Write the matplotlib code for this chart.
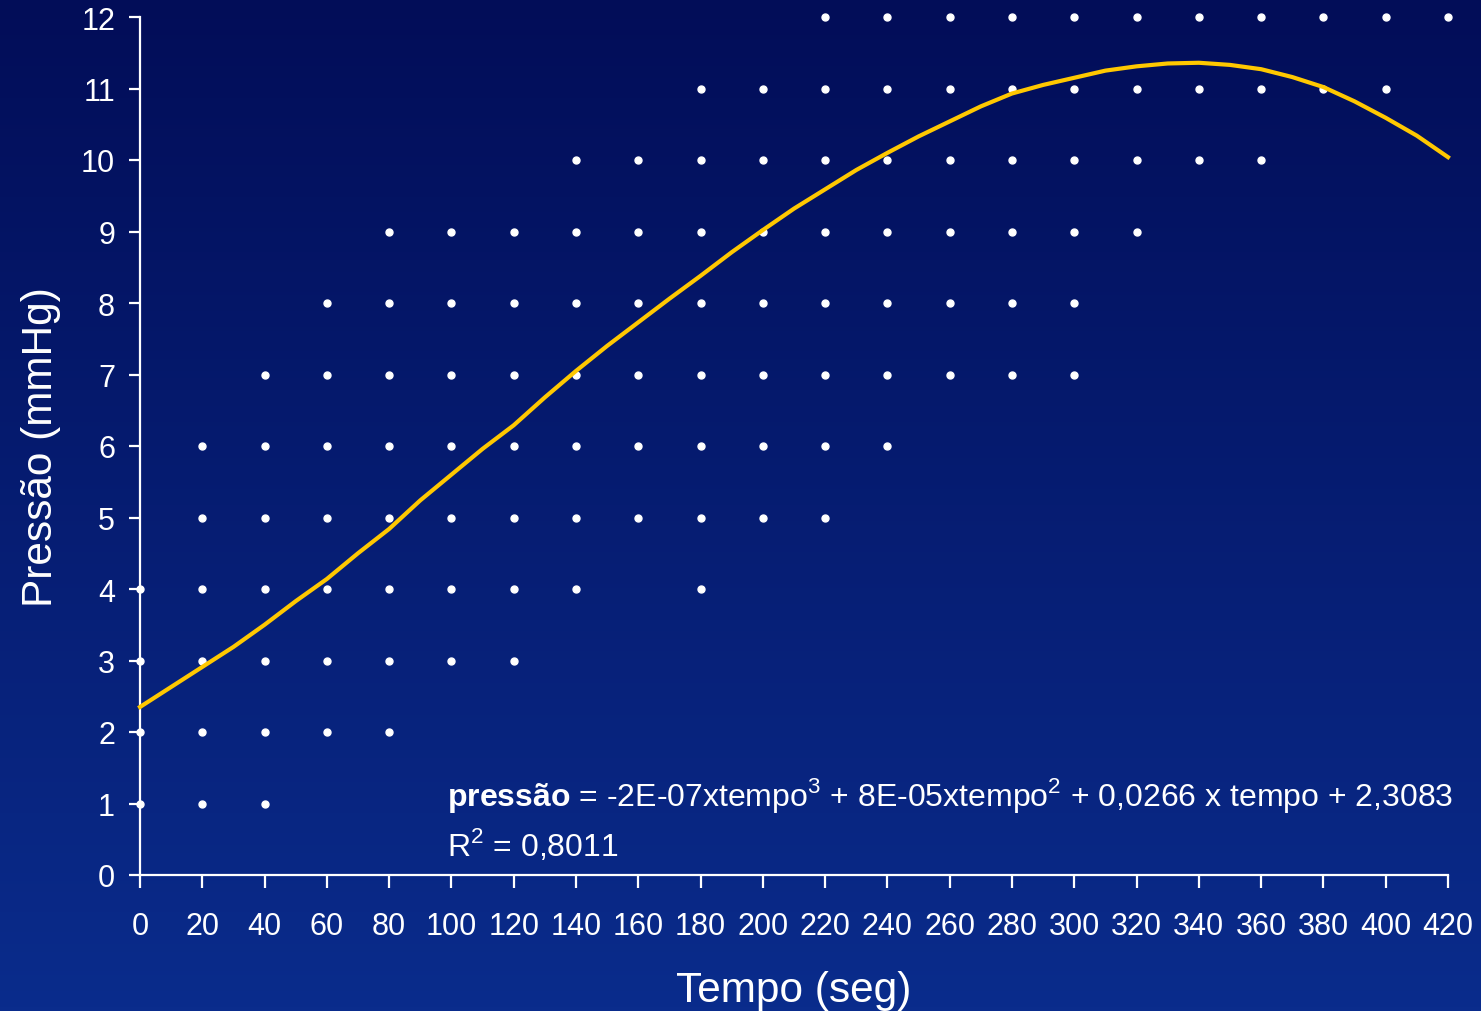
import matplotlib
matplotlib.use('Agg')
import matplotlib.pyplot as plt
import numpy as np
from matplotlib.colors import LinearSegmentedColormap

plt.rcParams['font.family'] = ['Liberation Sans', 'DejaVu Sans']
plt.rcParams['mathtext.fontset'] = 'custom'
plt.rcParams['mathtext.rm'] = 'Liberation Sans'
plt.rcParams['mathtext.bf'] = 'Liberation Sans:bold'

# observed points: for each pressure level, the times where a dot appears
niveis = [1, 2, 3, 4, 5, 6, 7, 8, 9, 10, 11, 12]
tempos_por_nivel = [
    [0, 20, 40],
    [0, 20, 40, 60, 80],
    [0, 20, 40, 60, 80, 100, 120],
    [0, 20, 40, 60, 80, 100, 120, 140, 180],
    [20, 40, 60, 80, 100, 120, 140, 160, 180, 200, 220],
    [20, 40, 60, 80, 100, 120, 140, 160, 180, 200, 220, 240],
    [40, 60, 80, 100, 120, 140, 160, 180, 200, 220, 240, 260, 280, 300],
    [60, 80, 100, 120, 140, 160, 180, 200, 220, 240, 260, 280, 300],
    [80, 100, 120, 140, 160, 180, 200, 220, 240, 260, 280, 300, 320],
    [140, 160, 180, 200, 220, 240, 260, 280, 300, 320, 340, 360],
    [180, 200, 220, 240, 260, 280, 300, 320, 340, 360, 380, 400],
    [220, 240, 260, 280, 300, 320, 340, 360, 380, 400, 420],
]

# trend line (every 10 s)
tempo_curva = [0, 10, 20, 30, 40, 50, 60, 70, 80, 90, 100, 110, 120, 130, 140,
               150, 160, 170, 180, 190, 200, 210, 220, 230, 240, 250, 260, 270,
               280, 290, 300, 310, 320, 330, 340, 350, 360, 370, 380, 390, 400,
               410, 420]
pressao_curva = [2.35, 2.63, 2.91, 3.19, 3.50, 3.83, 4.14, 4.50, 4.84, 5.24, 5.60,
                 5.96, 6.29, 6.68, 7.05, 7.40, 7.73, 8.06, 8.38, 8.71, 9.02, 9.32,
                 9.59, 9.86, 10.10, 10.33, 10.54, 10.75, 10.93, 11.05, 11.15, 11.25,
                 11.31, 11.35, 11.36, 11.33, 11.27, 11.16, 11.02, 10.82, 10.59,
                 10.34, 10.04]

fig = plt.figure(figsize=(14.81, 10.12), dpi=100)

# gradient background
bg = fig.add_axes([0, 0, 1, 1], zorder=-10)
grad = np.linspace(0, 1, 256).reshape(-1, 1)
cmap = LinearSegmentedColormap.from_list('bg', ['#020d58', '#0a2c8c'])
bg.imshow(grad, aspect='auto', cmap=cmap, extent=[0, 1, 0, 1])
bg.axis('off')

ax = fig.add_axes([140 / 1481, 1 - 876 / 1012, (1448 - 140) / 1481, (876 - 18) / 1012])
ax.patch.set_alpha(0)

for nivel, ts in zip(niveis, tempos_por_nivel):
    ax.plot(ts, [nivel] * len(ts), 'o', color='white', markersize=5, clip_on=False, zorder=3)

ax.plot(tempo_curva, pressao_curva, '-', color='#ffc800', lw=3, clip_on=False, zorder=4,
        solid_joinstyle='round')

ax.set_xlim(0, 420)
ax.set_ylim(0, 12)
ax.set_xticks(range(0, 421, 20))
ax.set_yticks(range(0, 13))
for s in ['top', 'right']:
    ax.spines[s].set_visible(False)
for s in ['left', 'bottom']:
    ax.spines[s].set_color('white')
    ax.spines[s].set_linewidth(1.6)
ax.tick_params(axis='y', colors='white', labelsize=22, length=8, width=1.6, pad=10)
ax.tick_params(axis='x', colors='white', labelsize=22, length=9, width=1.6, pad=17)

ax.set_xlabel('Tempo (seg)', color='white', fontsize=30.5, labelpad=20.5)
ax.set_ylabel('Pressão (mmHg)', color='white', fontsize=30.5, labelpad=14.5)

ax.text(98.6, 0.98, r'$\mathbf{pressão}$ = -2E-07xtempo$^{3}$ + 8E-05xtempo$^{2}$ + 0,0266 x tempo + 2,3083',
        color='white', fontsize=23, va='baseline', ha='left')
ax.text(98.6, 0.28, r'R$^{2}$ = 0,8011', color='white', fontsize=23, va='baseline', ha='left')

fig.savefig('out.png', dpi=100)
